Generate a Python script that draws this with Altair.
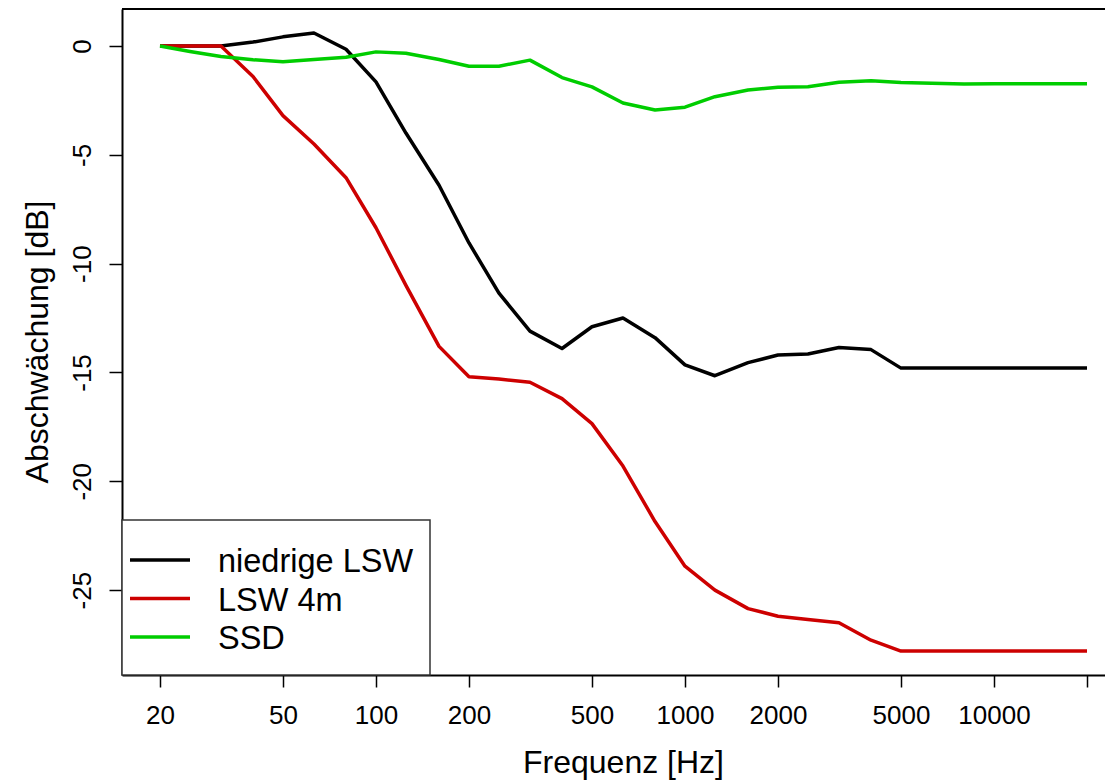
import altair as alt
import pandas as pd

# third-octave band centre frequencies [Hz]
freq = [20, 25, 31.5, 40, 50, 63, 80, 100, 125, 160, 200, 250, 315, 400, 500, 630,
        800, 1000, 1250, 1600, 2000, 2500, 3150, 4000, 5000, 6300, 8000, 10000,
        12500, 16000, 20000]

niedrige_lsw = [0, 0, 0, 0.18, 0.42, 0.6, -0.15, -1.65, -4.0, -6.4, -9.05, -11.35,
                -13.1, -13.9, -12.9, -12.5, -13.4, -14.65, -15.15, -14.55, -14.2,
                -14.15, -13.85, -13.95, -14.8, -14.8, -14.8, -14.8, -14.8, -14.8, -14.8]

lsw_4m = [0, 0, 0, -1.4, -3.2, -4.5, -6.05, -8.35, -11.0, -13.8, -15.2, -15.3,
          -15.45, -16.2, -17.35, -19.3, -21.85, -23.9, -25.0, -25.85, -26.2,
          -26.35, -26.5, -27.3, -27.8, -27.8, -27.8, -27.8, -27.8, -27.8, -27.8]

ssd = [0, -0.25, -0.48, -0.63, -0.72, -0.62, -0.52, -0.27, -0.33, -0.62, -0.93,
       -0.93, -0.65, -1.45, -1.88, -2.62, -2.94, -2.81, -2.33, -2.02, -1.9,
       -1.87, -1.67, -1.6, -1.68, -1.71, -1.75, -1.73, -1.73, -1.73, -1.73]

series_names = ["niedrige LSW", "LSW 4m", "SSD"]
series_colors = ["#000000", "#CD0000", "#00CD00"]

x_ticks = [20, 50, 100, 200, 500, 1000, 2000, 5000, 10000, 20000]
y_ticks = [-25, -20, -15, -10, -5, 0]

rows = []
for name, vals in zip(series_names, [niedrige_lsw, lsw_4m, ssd]):
    for f, v in zip(freq, vals):
        rows.append({"freq": f, "db": v, "series": name})
df = pd.DataFrame(rows)
legend_df = pd.DataFrame({"series": series_names})
one = pd.DataFrame({"a": [0]})

W, H = 983, 666
FONT = "Liberation Sans"

color = alt.Color("series:N",
                  scale=alt.Scale(domain=series_names, range=series_colors),
                  legend=None)

lines = alt.Chart(df).mark_line(strokeWidth=3.5, strokeJoin="round").encode(
    x=alt.X("freq:Q",
            scale=alt.Scale(type="log", domain=[15.07, 22870], nice=False, zero=False),
            axis=alt.Axis(values=x_ticks,
                          labelExpr="datum.value >= 20000 ? '' : '' + datum.value",
                          labelFontSize=26, labelPadding=15, labelFlush=False,
                          labelOverlap=False, labelColor="black",
                          tickSize=12, tickWidth=1.5, tickColor="black",
                          domainColor="black", domainWidth=2, grid=False,
                          title="Frequenz [Hz]", titleFontSize=32,
                          titleFontWeight="normal", titleColor="black",
                          titleX=501, titleY=97, titleAlign="center",
                          titleBaseline="alphabetic")),
    y=alt.Y("db:Q",
            scale=alt.Scale(domain=[-28.9, 1.7], nice=False, zero=False),
            axis=alt.Axis(values=y_ticks, labelExpr="'' + datum.value",
                          labelAngle=270, labelAlign="center",
                          labelBaseline="alphabetic", labelFontSize=26,
                          labelPadding=19, labelColor="black", labelOverlap=False,
                          labelFlush=False,
                          tickSize=13, tickWidth=1.5, tickColor="black",
                          domainColor="black", domainWidth=2, grid=False,
                          title="Abschwächung [dB]", titleFontSize=32,
                          titleFontWeight="normal", titleColor="black",
                          titleAngle=270, titleX=-75, titleY=332.5,
                          titleAlign="center", titleBaseline="alphabetic")),
    color=color,
)

top_border = alt.Chart(one).mark_rule(color="black", strokeWidth=2).encode(
    x=alt.value(0), x2=alt.value(W), y=alt.value(0))

legend_box = alt.Chart(one).mark_rect(fill="white", stroke="#333333",
                                      strokeWidth=1.5).encode(
    x=alt.value(0), x2=alt.value(308), y=alt.value(511), y2=alt.value(H))

ly = alt.Y("series:N",
           scale=alt.Scale(type="point", domain=series_names, range=[551, 628],
                           padding=0),
           axis=None)

legend_lines = alt.Chart(legend_df).mark_rule(strokeWidth=3.5).encode(
    x=alt.value(8), x2=alt.value(68), y=ly, color=color)

legend_text = alt.Chart(legend_df).mark_text(
    align="left", baseline="middle", fontSize=32.5, font=FONT, dy=2,
    color="black").encode(x=alt.value(96), y=ly, text="series:N")

chart = alt.layer(lines, top_border, legend_box, legend_lines, legend_text).resolve_scale(
    y="independent"
).properties(
    width=W, height=H,
    autosize=alt.AutoSizeParams(type="none"),
    padding={"left": 114, "top": 1, "right": 0, "bottom": 105},
).configure_view(stroke=None).configure_axis(
    labelFont=FONT, titleFont=FONT
).configure(background="white")

chart.save("out.html", embed_options={"renderer": "svg", "actions": False})
